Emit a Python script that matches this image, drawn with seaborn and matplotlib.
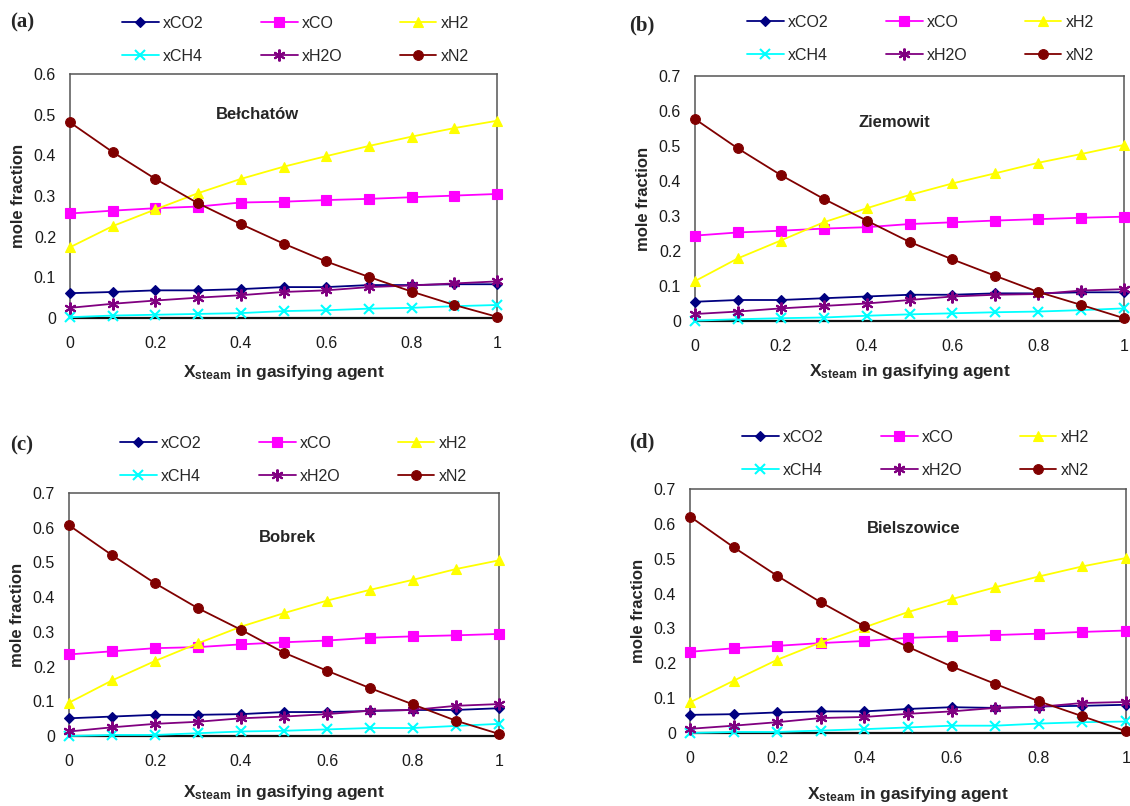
import numpy as np
import pandas as pd
import matplotlib
matplotlib.use("Agg")
import matplotlib.pyplot as plt
from matplotlib.ticker import FuncFormatter, MultipleLocator
import seaborn as sns

# ---------------- data ----------------
x_steam = [0, 0.1, 0.2, 0.3, 0.4, 0.5, 0.6, 0.7, 0.8, 0.9, 1.0]
series_names = ["xCO2", "xCO", "xH2", "xCH4", "xH2O", "xN2"]
panel_tags = ["(a)", "(b)", "(c)", "(d)"]
site_names = ["Bełchatów", "Ziemowit", "Bobrek", "Bielszowice"]
y_max = [0.6, 0.7, 0.7, 0.7]

belchatow = {
    "xCO2": [0.061, 0.064, 0.068, 0.068, 0.071, 0.076, 0.076, 0.081, 0.081, 0.083, 0.083],
    "xCO":  [0.257, 0.264, 0.270, 0.274, 0.284, 0.286, 0.290, 0.293, 0.297, 0.301, 0.305],
    "xH2":  [0.174, 0.226, 0.267, 0.307, 0.342, 0.372, 0.398, 0.423, 0.446, 0.467, 0.485],
    "xCH4": [0.002, 0.006, 0.008, 0.010, 0.012, 0.017, 0.019, 0.023, 0.025, 0.029, 0.032],
    "xH2O": [0.025, 0.035, 0.043, 0.050, 0.056, 0.064, 0.068, 0.076, 0.080, 0.085, 0.090],
    "xN2":  [0.481, 0.408, 0.342, 0.282, 0.231, 0.183, 0.139, 0.101, 0.065, 0.032, 0.003],
}
ziemowit = {
    "xCO2": [0.055, 0.060, 0.060, 0.065, 0.070, 0.075, 0.075, 0.079, 0.079, 0.082, 0.082],
    "xCO":  [0.244, 0.253, 0.258, 0.264, 0.268, 0.277, 0.282, 0.287, 0.291, 0.295, 0.298],
    "xH2":  [0.114, 0.179, 0.230, 0.282, 0.322, 0.360, 0.393, 0.422, 0.452, 0.477, 0.503],
    "xCH4": [0.001, 0.005, 0.008, 0.010, 0.015, 0.019, 0.022, 0.025, 0.027, 0.031, 0.036],
    "xH2O": [0.020, 0.027, 0.036, 0.043, 0.050, 0.060, 0.070, 0.075, 0.077, 0.087, 0.091],
    "xN2":  [0.577, 0.493, 0.417, 0.349, 0.287, 0.226, 0.176, 0.129, 0.083, 0.046, 0.008],
}
bobrek = {
    "xCO2": [0.051, 0.056, 0.061, 0.061, 0.063, 0.069, 0.069, 0.072, 0.075, 0.075, 0.080],
    "xCO":  [0.235, 0.244, 0.253, 0.256, 0.264, 0.270, 0.275, 0.283, 0.287, 0.290, 0.294],
    "xH2":  [0.096, 0.160, 0.216, 0.267, 0.315, 0.354, 0.390, 0.421, 0.450, 0.481, 0.506],
    "xCH4": [0.000, 0.003, 0.003, 0.008, 0.013, 0.015, 0.019, 0.023, 0.023, 0.029, 0.035],
    "xH2O": [0.013, 0.025, 0.035, 0.041, 0.051, 0.056, 0.063, 0.073, 0.075, 0.087, 0.092],
    "xN2":  [0.607, 0.521, 0.440, 0.368, 0.306, 0.240, 0.188, 0.138, 0.091, 0.044, 0.006],
}
bielszowice = {
    "xCO2": [0.052, 0.054, 0.059, 0.062, 0.062, 0.069, 0.074, 0.072, 0.076, 0.078, 0.081],
    "xCO":  [0.233, 0.243, 0.250, 0.258, 0.264, 0.273, 0.277, 0.281, 0.285, 0.290, 0.294],
    "xH2":  [0.088, 0.150, 0.210, 0.260, 0.303, 0.347, 0.384, 0.418, 0.449, 0.478, 0.502],
    "xCH4": [0.000, 0.003, 0.003, 0.007, 0.011, 0.016, 0.021, 0.021, 0.027, 0.031, 0.033],
    "xH2O": [0.012, 0.021, 0.031, 0.043, 0.046, 0.055, 0.062, 0.072, 0.075, 0.086, 0.089],
    "xN2":  [0.621, 0.533, 0.451, 0.375, 0.306, 0.247, 0.191, 0.141, 0.091, 0.048, 0.005],
}
panels_data = [belchatow, ziemowit, bobrek, bielszowice]

# ---------------- style ----------------
sns.set_style("white")
plt.rcParams["font.family"] = ["Liberation Sans", "DejaVu Sans"]
plt.rcParams["mathtext.fontset"] = "custom"
plt.rcParams["mathtext.rm"] = "Liberation Sans:bold"
plt.rcParams["mathtext.bf"] = "Liberation Sans:bold"
plt.rcParams["mathtext.it"] = "Liberation Sans:bold"

colors = {"xCO2": "#000080", "xCO": "#FF00FF", "xH2": "#FFFF00",
          "xCH4": "#00FFFF", "xH2O": "#800080", "xN2": "#800000"}
markers = {"xCO2": "D", "xCO": "s", "xH2": "^", "xCH4": "x",
           "xH2O": (6, 2, 0), "xN2": "o"}
msizes = {"xCO2": 5.5, "xCO": 6.5, "xH2": 7.5, "xCH4": 7.5, "xH2O": 8.5, "xN2": 7}

W, H = 1130, 806
fig = plt.figure(figsize=(W / 100, H / 100), dpi=100)

# axes boxes in pixels: left, right, top, bottom
boxes = [(70, 497, 74, 318), (695, 1124, 76, 321),
         (69, 499, 493, 736), (690, 1126, 489, 733)]
legend_anchor = [(122, 16), (747, 15), (120, 436), (742, 430)]
tag_pos = [(22, 22), (642, 25), (22, 445), (642, 442)]
site_pos = [(0.438, 0.832), (0.464, 0.812), (0.507, 0.815), (0.514, 0.84)]
xlabel_pad = [54, 50, 57, 61]

fmt = FuncFormatter(lambda v, p: "%g" % round(v, 2))

for i, d in enumerate(panels_data):
    l, r, t, b = boxes[i]
    ax = fig.add_axes([l / W, 1 - b / H, (r - l) / W, (b - t) / H])
    for name in series_names:
        c = colors[name]
        sns.lineplot(x=x_steam, y=d[name], ax=ax, color=c, marker=markers[name],
                     markersize=msizes[name], markeredgecolor=c, markerfacecolor=c,
                     markeredgewidth=1.5 if name in ("xCH4", "xH2O") else 0.8,
                     linewidth=1.3, label=name, clip_on=False, zorder=3,
                     errorbar=None)
    ax.set_xlim(0, 1)
    ax.set_ylim(0, y_max[i])
    ax.xaxis.set_major_locator(MultipleLocator(0.2))
    ax.yaxis.set_major_locator(MultipleLocator(0.1))
    ax.xaxis.set_major_formatter(fmt)
    ax.yaxis.set_major_formatter(fmt)
    ax.tick_params(axis="both", length=0, labelsize=11.5, colors="#1a1a1a")
    ax.tick_params(axis="y", pad=10)
    ax.tick_params(axis="x", pad=13)
    for s in ("left", "right", "top"):
        ax.spines[s].set_color("#555555")
        ax.spines[s].set_linewidth(1.1)
    ax.spines["bottom"].set_color("#111111")
    ax.spines["bottom"].set_linewidth(1.6)
    ax.set_ylabel("mole fraction", fontsize=12, fontweight="bold")
    ax.set_xlabel(r"X$_{\mathbf{steam}}$ in gasifying agent", fontsize=12.5,
                  fontweight="bold", va="center")
    ax.xaxis.set_label_coords(0.5, -xlabel_pad[i] / (b - t))
    ax.yaxis.set_label_coords(-44 / (r - l), 0.5)
    ax.text(site_pos[i][0], site_pos[i][1], site_names[i], transform=ax.transAxes,
            ha="center", va="center", fontsize=12, fontweight="bold")

    handles, labels = ax.get_legend_handles_labels()
    hmap = dict(zip(labels, handles))
    order = ["xCO2", "xCH4", "xCO", "xH2O", "xH2", "xN2"]
    ax.legend([hmap[k] for k in order], order, ncol=3, loc="upper left",
              bbox_to_anchor=(legend_anchor[i][0] / W, 1 - legend_anchor[i][1] / H),
              bbox_transform=fig.transFigure, frameon=False, fontsize=11.5,
              borderpad=0, borderaxespad=0, handlelength=2.3, handletextpad=0.25,
              columnspacing=3.6, labelspacing=1.1)

    fig.text(tag_pos[i][0] / W, 1 - tag_pos[i][1] / H, panel_tags[i],
             ha="center", va="center", fontsize=15, fontweight="bold",
             family=["Liberation Serif", "DejaVu Serif"])

fig.savefig("out.png", dpi=100)
